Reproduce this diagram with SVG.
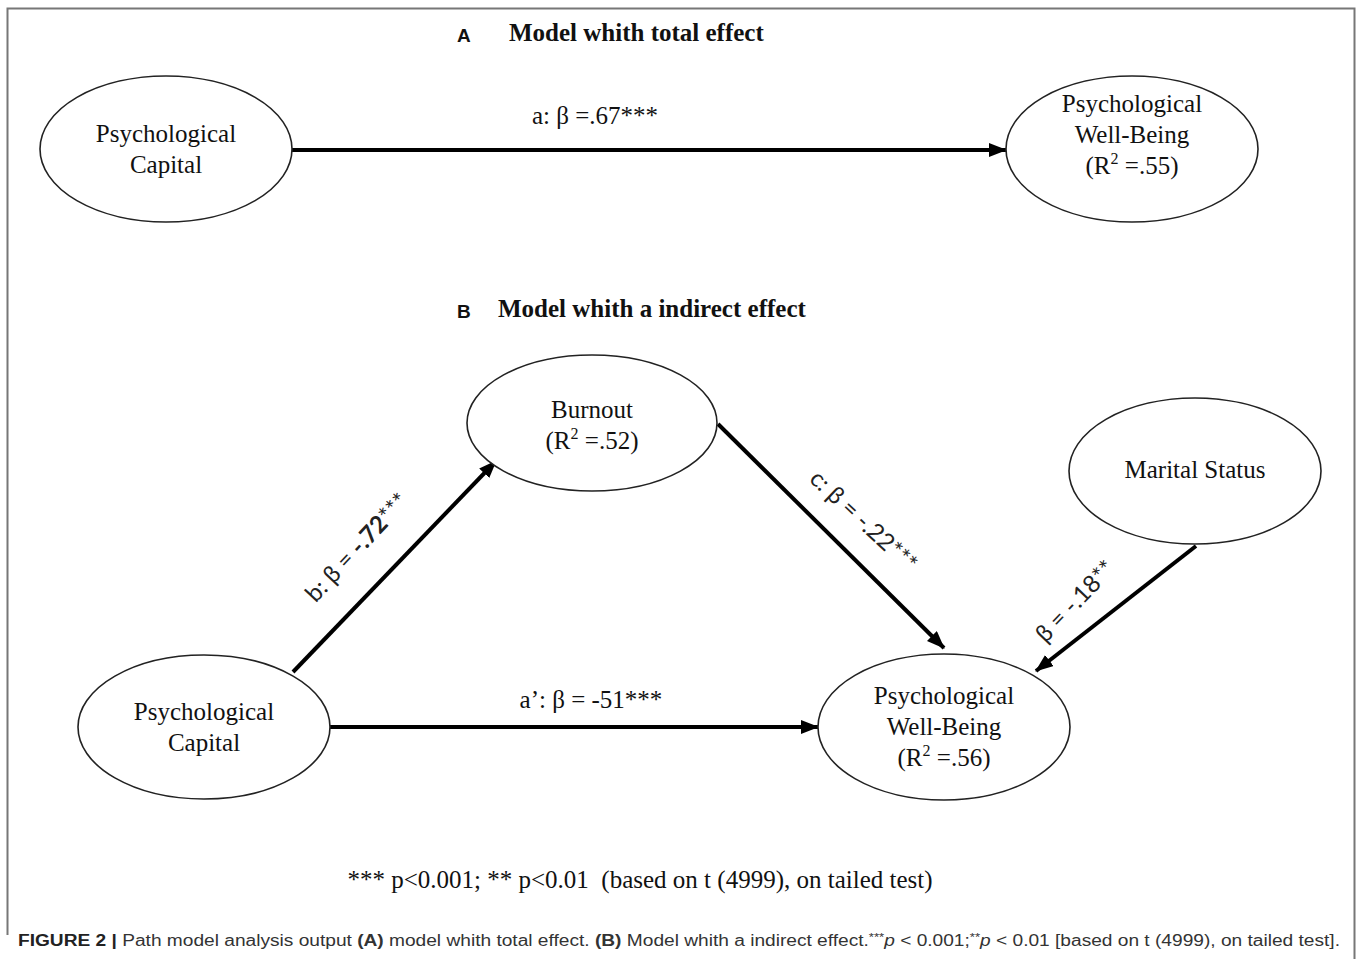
<svg xmlns="http://www.w3.org/2000/svg" width="1358" height="959" viewBox="0 0 1358 959">
<style>
.node{fill:#fff;stroke:#222;stroke-width:1.6}
.nt{font-family:"Liberation Serif",serif;font-size:25px;fill:#111;text-anchor:middle}
.title{font-family:"Liberation Serif",serif;font-size:25px;font-weight:bold;fill:#111}
.letter{font-family:"Liberation Sans",sans-serif;font-size:19px;font-weight:bold;fill:#111}
.edge{stroke:#000;stroke-width:4;fill:none;marker-end:url(#arr)}
.lbl{font-family:"Liberation Serif",serif;font-size:25px;fill:#111;text-anchor:middle}
.slbl{font-family:Lato,"Open Sans",sans-serif;font-size:24px;fill:#222;text-anchor:middle}
.cap{font-family:"Liberation Sans",sans-serif;font-size:16px;fill:#333}
</style>
<defs>
<marker id="arr" markerUnits="userSpaceOnUse" markerWidth="20" markerHeight="16" refX="17" refY="7" orient="auto">
<path d="M0,0 L18,7 L0,14 Z" fill="#000"/>
</marker>
</defs>
<rect width="1358" height="959" fill="#fff"/>
<path d="M7.5,935 V8.5 H1354.5 V959" fill="none" stroke="#777" stroke-width="2"/>

<text class="letter" x="457" y="42">A</text>
<text class="title" x="509" y="41">Model whith total effect</text>
<text class="letter" x="457" y="318">B</text>
<text class="title" x="498" y="317">Model whith a indirect effect</text>

<g id="connectors">
<line class="edge" x1="292" y1="150" x2="1006" y2="150"/>
<line class="edge" x1="293" y1="672" x2="496" y2="461"/>
<line class="edge" x1="718" y1="424" x2="944" y2="648"/>
<line class="edge" x1="1196" y1="546" x2="1036" y2="671"/>
<line class="edge" x1="330" y1="727" x2="818" y2="727"/>
<text class="lbl" x="595" y="124">a: β =.67***</text>
<text class="lbl" x="591" y="708">a’: β = -51***</text>
<text class="slbl" transform="translate(363,553) rotate(-47)">b: β = <tspan font-weight="bold">-.72</tspan>***</text>
<text class="slbl" transform="translate(858,527) rotate(43)">c: β = -.22***</text>
<text class="slbl" transform="translate(1081,607) rotate(-46)">β = -.18**</text>
</g>

<g id="psycap-a">
<ellipse class="node" cx="166" cy="149" rx="126" ry="73"/>
<text class="nt" x="166" y="142">Psychological</text>
<text class="nt" x="166" y="173">Capital</text>
</g>
<g id="pwb-a">
<ellipse class="node" cx="1132" cy="149" rx="126" ry="73"/>
<text class="nt" x="1132" y="112">Psychological</text>
<text class="nt" x="1132" y="143">Well-Being</text>
<text class="nt" x="1132" y="174">(R<tspan font-size="16" dy="-10">2</tspan><tspan dy="10"> =.55)</tspan></text>
</g>
<g id="burnout">
<ellipse class="node" cx="592" cy="423" rx="125" ry="68"/>
<text class="nt" x="592" y="418">Burnout</text>
<text class="nt" x="592" y="449">(R<tspan font-size="16" dy="-10">2</tspan><tspan dy="10"> =.52)</tspan></text>
</g>
<g id="marital">
<ellipse class="node" cx="1195" cy="471" rx="126" ry="73"/>
<text class="nt" x="1195" y="478">Marital Status</text>
</g>
<g id="psycap-b">
<ellipse class="node" cx="204" cy="727" rx="126" ry="72"/>
<text class="nt" x="204" y="720">Psychological</text>
<text class="nt" x="204" y="751">Capital</text>
</g>
<g id="pwb-b">
<ellipse class="node" cx="944" cy="727" rx="126" ry="73"/>
<text class="nt" x="944" y="704">Psychological</text>
<text class="nt" x="944" y="735">Well-Being</text>
<text class="nt" x="944" y="766">(R<tspan font-size="16" dy="-10">2</tspan><tspan dy="10"> =.56)</tspan></text>
</g>

<text class="lbl" x="640" y="888" xml:space="preserve">*** p&lt;0.001; ** p&lt;0.01  (based on t (4999), on tailed test)</text>
<text class="cap" x="18" y="946" textLength="1322" lengthAdjust="spacingAndGlyphs"><tspan font-weight="bold" fill="#222">FIGURE 2 |</tspan> Path model analysis output <tspan font-weight="bold">(A)</tspan> model whith total effect. <tspan font-weight="bold">(B)</tspan> Model whith a indirect effect.<tspan font-size="11" dy="-5">***</tspan><tspan dy="5" font-style="italic">p</tspan> &lt; 0.001;<tspan font-size="11" dy="-5">**</tspan><tspan dy="5" font-style="italic">p</tspan> &lt; 0.01 [based on t (4999), on tailed test].</text>
</svg>
